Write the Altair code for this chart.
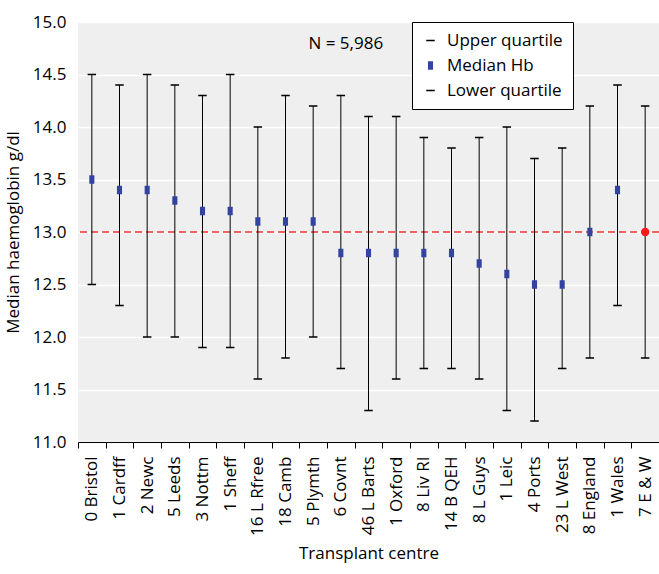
import altair as alt
import pandas as pd

# Transplant centres with lower quartile, median and upper quartile haemoglobin (g/dl)
centres = ["0 Bristol", "1 Cardff", "2 Newc", "5 Leeds", "3 Nottm", "1 Sheff",
           "16 L Rfree", "18 Camb", "5 Plymth", "6 Covnt", "46 L Barts", "1 Oxford",
           "8 Liv RI", "14 B QEH", "8 L Guys", "1 Leic", "4 Ports", "23 L West",
           "8 England", "1 Wales", "7 E & W"]
lower_q = [12.5, 12.3, 12.0, 12.0, 11.9, 11.9, 11.6, 11.8, 12.0, 11.7, 11.3, 11.6,
           11.7, 11.7, 11.6, 11.3, 11.2, 11.7, 11.8, 12.3, 11.8]
median_hb = [13.5, 13.4, 13.4, 13.3, 13.2, 13.2, 13.1, 13.1, 13.1, 12.8, 12.8, 12.8,
             12.8, 12.8, 12.7, 12.6, 12.5, 12.5, 13.0, 13.4, 13.0]
upper_q = [14.5, 14.4, 14.5, 14.4, 14.3, 14.5, 14.0, 14.3, 14.2, 14.3, 14.1, 14.1,
           13.9, 13.8, 13.9, 14.0, 13.7, 13.8, 14.2, 14.4, 14.2]
stat_names = ["Upper quartile", "Median Hb", "Lower quartile"]
total_label = "7 E & W"
target_hb = 13.0
n_text = "N = 5,986"

FONT = "Open Sans"
BLUE = "#3343a0"
RED = "#ee3030"

wide = pd.DataFrame({"centre": centres, "lower": lower_q,
                     "median": median_hb, "upper": upper_q})

rows = []
for c, lo, md, up in zip(centres, lower_q, median_hb, upper_q):
    rows.append({"centre": c, "stat": stat_names[0], "value": up})
    if c != total_label:
        rows.append({"centre": c, "stat": stat_names[1], "value": md})
    rows.append({"centre": c, "stat": stat_names[2], "value": lo})
long = pd.DataFrame(rows)
total = wide[wide["centre"] == total_label]

x_enc = alt.X("centre:N", sort=centres, title="Transplant centre",
              scale=alt.Scale(paddingInner=0, paddingOuter=0),
              axis=alt.Axis(labelAngle=-90, labelFontSize=17, labelFont=FONT,
                            labelColor="black", labelPadding=8, tickBand="extent",
                            tickColor="black", tickSize=6, domainColor="black",
                            titleFontSize=17, titleFont=FONT, titleFontWeight="normal",
                            titleColor="black", titlePadding=10))
y_scale = alt.Scale(domain=[11, 15], nice=False, zero=False)
y_axis = alt.Axis(values=[11, 11.5, 12, 12.5, 13, 13.5, 14, 14.5, 15], format=".1f",
                  ticks=False, domain=False, labelFontSize=17, labelFont=FONT,
                  labelColor="black", labelPadding=12, grid=True, gridColor="white",
                  gridWidth=1.5, titleFontSize=17, titleFont=FONT,
                  titleFontWeight="normal", titleColor="black", titlePadding=10)

ref_line = alt.Chart(pd.DataFrame({"y": [target_hb]})).mark_rule(
    color=RED, strokeWidth=1.5, strokeDash=[7, 4]
).encode(y=alt.Y("y:Q", scale=y_scale, axis=y_axis, title="Median haemoglobin g/dl"))

bars = alt.Chart(wide).mark_rule(color="black", strokeWidth=1).encode(
    x=x_enc,
    y=alt.Y("lower:Q", scale=y_scale),
    y2="upper:Q",
)

dash_path = "M-1,-0.18H1V0.18H-1Z"
rect_path = "M-0.6,-1H0.6V1H-0.6Z"
points = alt.Chart(long).mark_point(filled=True, opacity=1, size=72).encode(
    x=alt.X("centre:N", sort=centres),
    y=alt.Y("value:Q", scale=y_scale),
    shape=alt.Shape("stat:N", scale=alt.Scale(domain=stat_names,
                                              range=[dash_path, rect_path, dash_path]),
                    legend=alt.Legend(title=None)),
    color=alt.Color("stat:N", scale=alt.Scale(domain=stat_names,
                                              range=["black", BLUE, "black"]),
                    legend=alt.Legend(title=None)),
)

total_pt = alt.Chart(total).mark_point(filled=True, opacity=1, size=70, shape="circle",
                                       color="#ff1a1a").encode(
    x=alt.X("centre:N", sort=centres),
    y=alt.Y("median:Q", scale=y_scale),
)

n_label = alt.Chart(pd.DataFrame({"centre": ["6 Covnt"], "y": [14.79], "t": [n_text]})).mark_text(
    font=FONT, fontSize=17, color="black", dx=5, baseline="middle"
).encode(x=alt.X("centre:N", sort=centres), y=alt.Y("y:Q", scale=y_scale), text="t:N")

chart = alt.layer(ref_line, bars, points, total_pt, n_label).properties(
    width=581, height=420,
    autosize=alt.AutoSizeParams(type="none"),
    padding={"left": 78, "top": 22, "right": 0, "bottom": 132},
).configure_view(fill="#efefef", stroke=None).configure_legend(
    orient="none", legendX=334, legendY=0, padding=10, rowPadding=7,
    strokeColor="black", fillColor="white", labelFont=FONT, labelFontSize=17,
    labelColor="black", symbolSize=72, labelOffset=8,
)

chart.save("out.html", embed_options={"renderer": "svg", "actions": False})
